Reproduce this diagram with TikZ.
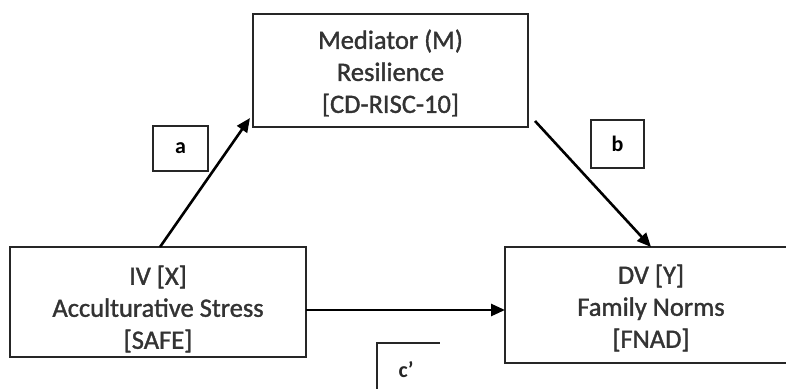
\documentclass[tikz,border=0pt]{standalone}
\usepackage{fontspec}
\setmainfont{Carlito}
\newfontfamily\thickfont{Carlito}[FakeBold=1.3]
\usetikzlibrary{arrows.meta}
\begin{document}
\begin{tikzpicture}[x=1pt,y=-1pt,
  bx/.style={draw=black!85, line width=2.6pt},
  lbl/.style={bx, font=\fontsize{22}{22}\selectfont\bfseries},
  txt/.style={align=center, font=\thickfont\fontsize{26.5}{32}\selectfont, text=black!80},
  arr/.style={line width=2.6pt, -{Triangle[length=14pt,width=12pt]}}]
\useasboundingbox (0,0) rectangle (786,388);
\draw[bx] (253,14) rectangle (528,127);
\node[txt] (m) at (390.5,73) {Mediator (M)\\Resilience\\{[CD-RISC-10]}};
\draw[bx] (10,247) rectangle (306,357);
\node[txt] (x) at (158,309) {IV [X]\\Acculturative Stress\\{[SAFE]}};
\draw[bx] (505,247) rectangle (800,363);
\node[txt] (y) at (651,308) {DV [Y]\\Family Norms\\{[FNAD]}};
\coordinate (xtop) at (160,247);
\coordinate (mbl) at (250,118);
\coordinate (mbr) at (535,121);
\coordinate (ytop) at (651,247);
\coordinate (xr) at (306,310);
\coordinate (yl) at (505,310);
\draw[arr] (xtop) -- (mbl);
\draw[arr] (mbr) -- (ytop);
\draw[arr] (xr) -- (yl);
\node[lbl, minimum width=55pt, minimum height=45pt] (a) at (180.5,148.5) {a};
\node[lbl, minimum width=53pt, minimum height=48pt] (b) at (617.5,144) {b};
\draw[bx] (377,395) |- (440,343);
\node[font=\fontsize{22}{22}\selectfont\bfseries, text=black!85] (c) at (406,370) {c’};
\end{tikzpicture}
\end{document}
